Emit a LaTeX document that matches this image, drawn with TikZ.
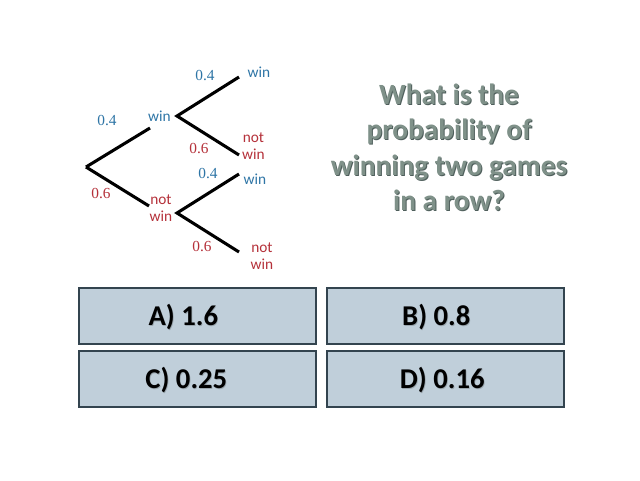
\documentclass[tikz,border=0pt]{standalone}
\usepackage{fontspec}
\setmainfont{Carlito}
\newfontfamily\probfont{Liberation Serif}
\definecolor{winblue}{HTML}{2E75A6}
\definecolor{losered}{HTML}{B5313A}
\definecolor{qgreen}{HTML}{7F9189}
\definecolor{qshadow}{HTML}{4F5F5C}
\definecolor{boxfill}{HTML}{C0CFDA}
\definecolor{boxline}{HTML}{33444F}
\definecolor{ansshadow}{HTML}{9AA6AE}
\tikzset{
  x=0.75pt,y=-0.75pt,
  branch/.style={line width=2.3pt,black},
  bluelabel/.style={text=winblue,font=\fontsize{11.5}{12}\selectfont,inner sep=0pt,align=center},
  redlabel/.style={text=losered,font=\fontsize{11.5}{13.2}\selectfont,inner sep=0pt,align=center},
  problabel/.style={font=\fontsize{11.5}{12}\selectfont\probfont,inner sep=0pt},
  answerbox/.style={draw=boxline,fill=boxfill,line width=1.5pt,minimum width=177.5pt,minimum height=42pt,inner sep=0pt},
  answertext/.style={font=\fontsize{21.5}{24}\selectfont\bfseries,inner sep=0pt,text=black},
  answershadow/.style={font=\fontsize{21.5}{24}\selectfont\bfseries,inner sep=0pt,text=ansshadow},
  question/.style={font=\fontsize{22}{26.6}\selectfont\bfseries,align=center,inner sep=0pt},
}
\begin{document}
\begin{tikzpicture}
\useasboundingbox (0,0) rectangle (640,480);
\fill[white] (0,0) rectangle (640,480);
% tree
\coordinate (root) at (86,167);
\coordinate (upmid) at (150,128);
\coordinate (lowmid) at (149,206);
\coordinate (up) at (177,116);
\coordinate (low) at (177,213);
\coordinate (e1) at (239,77);
\coordinate (e2) at (239,155);
\coordinate (e3) at (239,174);
\coordinate (e4) at (239,252);
\draw[branch] (root) -- (upmid);
\draw[branch] (root) -- (lowmid);
\draw[branch] (e1) -- (up) -- (e2);
\draw[branch] (e3) -- (low) -- (e4);
% state labels
\node[bluelabel] (w1) at (159.5,116) {win};
\node[redlabel] (n1) at (161,208) {not\\win};
\node[bluelabel] (w2) at (259,72) {win};
\node[redlabel] (n2) at (253.5,146) {not\\win};
\node[bluelabel] (w3) at (255,179) {win};
\node[redlabel] (n3) at (262,256) {not\\win};
% probabilities
\node[problabel,text=winblue] (p1) at (107,121) {0.4};
\node[problabel,text=losered] (p2) at (101,194) {0.6};
\node[problabel,text=winblue] (p3) at (205,76) {0.4};
\node[problabel,text=losered] (p4) at (199,149) {0.6};
\node[problabel,text=winblue] (p5) at (208,174) {0.4};
\node[problabel,text=losered] (p6) at (202,247) {0.6};
% question
\node[question,text=qshadow] (qs) at (450,148.5) {What is the\\probability of\\winning two games\\in a row?};
\node[question,text=qgreen] (q) at (449,147.5) {What is the\\probability of\\winning two games\\in a row?};
% answers
\node[answerbox] (a) at (197.5,316) {};
\node[answerbox] (b) at (445.5,316) {};
\node[answerbox] (c) at (197.5,378.5) {};
\node[answerbox] (d) at (445.5,378.5) {};
\node[answershadow] at (184,318.2) {A) 1.6};
\node[answershadow] at (437,318.2) {B) 0.8};
\node[answershadow] at (187,381.2) {C) 0.25};
\node[answershadow] at (443,381.2) {D) 0.16};
\node[answertext] (ta) at (183.3,317.5) {A) 1.6};
\node[answertext] (tb) at (436.3,317.5) {B) 0.8};
\node[answertext] (tc) at (186.3,380.5) {C) 0.25};
\node[answertext] (td) at (442.3,380.5) {D) 0.16};
\end{tikzpicture}
\end{document}
